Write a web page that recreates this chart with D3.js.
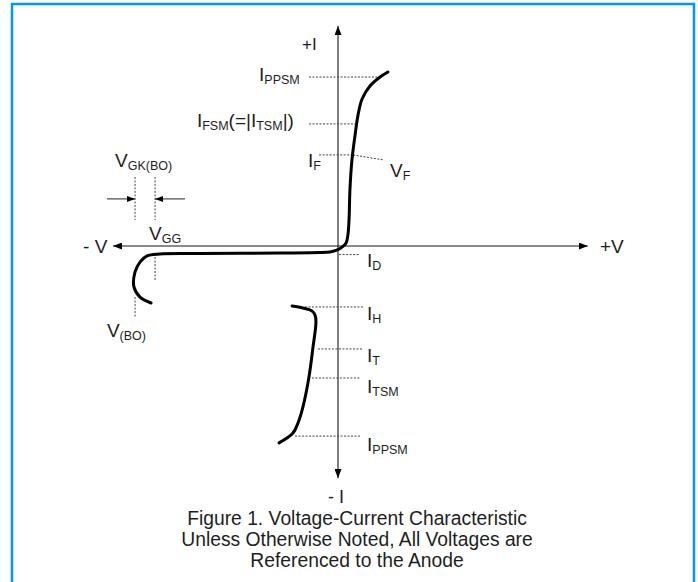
<!DOCTYPE html>
<html>
<head>
<meta charset="utf-8">
<script src="https://cdn.jsdelivr.net/npm/d3@7"></script>
<style>
body { margin: 0; background: #fff; }
svg text { font-family: "Liberation Sans", Arial, sans-serif; fill: #1e1e1e; }
</style>
</head>
<body>
<div id="chart"></div>
<script>
// V-I characteristic, values in arbitrary axis units (origin = 0,0)
var forwardCurve = [
  [-8.31, -2.59], [-8.80, -2.32], [-9.07, -1.86], [-9.02, -1.18], [-8.80, -0.73],
  [-8.49, -0.45], [-7.91, -0.36], [-6.13, -0.34], [-2.58, -0.32], [-0.80, -0.30],
  [-0.36, -0.27], [-0.09, -0.20], [0.18, -0.05], [0.36, 0.14], [0.44, 0.50],
  [0.49, 1.18], [0.53, 2.55], [0.62, 3.91], [0.76, 5.05], [0.89, 5.95],
  [1.07, 6.68], [1.42, 7.27], [1.87, 7.68], [2.22, 7.91]
]
var reverseCurve = [
  [-2.04, -2.73], [-1.56, -2.82], [-1.16, -2.95], [-1.02, -3.14], [-0.98, -3.45],
  [-1.11, -4.59], [-1.29, -5.95], [-1.56, -7.32], [-1.78, -8.05], [-2.00, -8.50],
  [-2.62, -8.95]
]
// dotted reference levels: [current, v from, v to]
var levelLines = [
  [7.68, -1.29, 1.87],   // IPPSM
  [5.55, -1.29, 0.76],   // IFSM
  [4.14, -0.84, 0.67],   // IF
  [-0.39, 0.05, 0.93],   // ID
  [-2.77, -1.47, 1.11],  // IH
  [-4.68, -0.89, 1.11],  // IT
  [-6.00, -1.16, 1.02],  // ITSM
  [-8.64, -1.91, 0.98]   // IPPSM
]
// dotted voltage markers: [voltage, i from, i to]
var voltLines = [
  [-9.02, 3.14, 1.18],
  [-8.13, 3.14, 1.18],
  [-8.13, -0.50, -1.55],
  [-9.02, -2.32, -3.23]
]
var vfLeader = [[0.67, 4.14], [2.04, 3.91]]
// labels: parts are [text, isSubscript]
var labels = [
  { parts: [["+I", 0]], v: -1.60, i: 8.91, size: 17 },
  { parts: [["- V", 0]], v: -11.33, i: -0.32, size: 19 },
  { parts: [["+V", 0]], v: 11.64, i: -0.32, size: 19 },
  { parts: [["- I", 0]], v: -0.09, i: -11.68, size: 18, anchor: "middle" },
  { parts: [["I", 0], ["PPSM", 1]], v: -3.51, i: 7.50, size: 19 },
  { parts: [["I", 0], ["FSM", 1], ["(=|I", 0], ["TSM", 1], ["|)", 0]], v: -6.27, i: 5.41, size: 19 },
  { parts: [["I", 0], ["F", 1]], v: -1.33, i: 3.59, size: 19 },
  { parts: [["V", 0], ["F", 1]], v: 2.31, i: 3.14, size: 19 },
  { parts: [["I", 0], ["D", 1]], v: 1.29, i: -0.95, size: 19 },
  { parts: [["I", 0], ["H", 1]], v: 1.29, i: -3.36, size: 19 },
  { parts: [["I", 0], ["T", 1]], v: 1.29, i: -5.27, size: 19 },
  { parts: [["I", 0], ["TSM", 1]], v: 1.29, i: -6.68, size: 19 },
  { parts: [["I", 0], ["PPSM", 1]], v: 1.29, i: -9.32, size: 19 },
  { parts: [["V", 0], ["GK(BO)", 1]], v: -9.91, i: 3.59, size: 19 },
  { parts: [["V", 0], ["GG", 1]], v: -8.40, i: 0.27, size: 19 },
  { parts: [["V", 0], ["(BO)", 1]], v: -10.27, i: -4.14, size: 19 }
]
var captionLines = [
  "Figure 1. Voltage-Current Characteristic",
  "Unless Otherwise Noted, All Voltages are",
  "Referenced to the Anode"
]

var width = 698
var height = 582
var svg = d3.select("#chart").append("svg").attr("width", width).attr("height", height)

var x = d3.scaleLinear().domain([-10, 10]).range([113, 563])
var y = d3.scaleLinear().domain([-10, 10]).range([466, 26])

// frame
svg.append("rect").attr("x", 12).attr("y", 4).attr("width", 682).attr("height", 620)
  .attr("fill", "none").attr("stroke", "#0096ff").attr("stroke-width", 2.5)

var defs = svg.append("defs")
function addMarker(id, w, h) {
  defs.append("marker").attr("id", id)
    .attr("viewBox", "0 0 " + w + " " + h)
    .attr("refX", w).attr("refY", h / 2)
    .attr("markerWidth", w).attr("markerHeight", h)
    .attr("markerUnits", "userSpaceOnUse")
    .attr("orient", "auto")
    .append("path").attr("d", "M0,0L" + w + "," + (h / 2) + "L0," + h + "Z").attr("fill", "#000")
}
addMarker("axisHead", 9, 7)
addMarker("smallHead", 8, 6)

// axes
var hAxis = [[-10.0, 11.1]]
svg.append("line").attr("x1", x(0)).attr("x2", x(hAxis[0][0])).attr("y1", y(0)).attr("y2", y(0))
  .attr("stroke", "#8a8a8a").attr("stroke-width", 2).attr("marker-end", "url(#axisHead)")
svg.append("line").attr("x1", x(0)).attr("x2", x(hAxis[0][1])).attr("y1", y(0)).attr("y2", y(0))
  .attr("stroke", "#8a8a8a").attr("stroke-width", 2).attr("marker-end", "url(#axisHead)")
svg.append("line").attr("x1", x(0)).attr("x2", x(0)).attr("y1", y(0)).attr("y2", y(10))
  .attr("stroke", "#000").attr("stroke-width", 1).attr("marker-end", "url(#axisHead)")
svg.append("line").attr("x1", x(0)).attr("x2", x(0)).attr("y1", y(0)).attr("y2", y(-10.55))
  .attr("stroke", "#000").attr("stroke-width", 1).attr("marker-end", "url(#axisHead)")

// dotted reference lines
var dash = "2,1.5"
svg.selectAll(".level").data(levelLines).enter().append("line").attr("class", "level")
  .attr("x1", function(d) { return x(d[1]) }).attr("x2", function(d) { return x(d[2]) })
  .attr("y1", function(d) { return y(d[0]) }).attr("y2", function(d) { return y(d[0]) })
  .attr("stroke", "#444").attr("stroke-width", 1).attr("stroke-dasharray", dash)
svg.selectAll(".volt").data(voltLines).enter().append("line").attr("class", "volt")
  .attr("x1", function(d) { return x(d[0]) }).attr("x2", function(d) { return x(d[0]) })
  .attr("y1", function(d) { return y(d[1]) }).attr("y2", function(d) { return y(d[2]) })
  .attr("stroke", "#444").attr("stroke-width", 1).attr("stroke-dasharray", dash)
svg.append("line").attr("x1", x(vfLeader[0][0])).attr("y1", y(vfLeader[0][1]))
  .attr("x2", x(vfLeader[1][0])).attr("y2", y(vfLeader[1][1]))
  .attr("stroke", "#444").attr("stroke-width", 1).attr("stroke-dasharray", dash)

// VGK(BO) dimension arrows
var gkArrows = [[-10.27, -9.02], [-6.80, -8.13]]
svg.selectAll(".gk").data(gkArrows).enter().append("line").attr("class", "gk")
  .attr("x1", function(d) { return x(d[0]) }).attr("x2", function(d) { return x(d[1]) })
  .attr("y1", y(2.14)).attr("y2", y(2.14))
  .attr("stroke", "#222").attr("stroke-width", 1).attr("marker-end", "url(#smallHead)")

// characteristic curves
var line = d3.line().x(function(d) { return x(d[0]) }).y(function(d) { return y(d[1]) })
  .curve(d3.curveCatmullRom.alpha(0.5))
svg.selectAll(".curve").data([forwardCurve, reverseCurve]).enter().append("path").attr("class", "curve")
  .attr("d", line).attr("fill", "none").attr("stroke", "#000").attr("stroke-width", 3)
  .attr("stroke-linecap", "round").attr("stroke-linejoin", "round")

// labels
labels.forEach(function(l) {
  var t = svg.append("text").attr("x", x(l.v)).attr("y", y(l.i))
    .attr("font-size", l.size).attr("text-anchor", l.anchor || "start")
  var prevSub = 0
  l.parts.forEach(function(p) {
    var shift = p[1] ? (prevSub ? 0 : 3) : (prevSub ? -3 : 0)
    t.append("tspan").text(p[0]).attr("dy", shift).attr("font-size", p[1] ? 12.5 : l.size)
    prevSub = p[1]
  })
})

// caption
svg.selectAll(".caption").data(captionLines).enter().append("text").attr("class", "caption")
  .attr("x", 357).attr("y", function(d, k) { return 525 + k * 21 })
  .attr("text-anchor", "middle").attr("font-size", 19.3)
  .text(function(d) { return d })
</script>
</body>
</html>
